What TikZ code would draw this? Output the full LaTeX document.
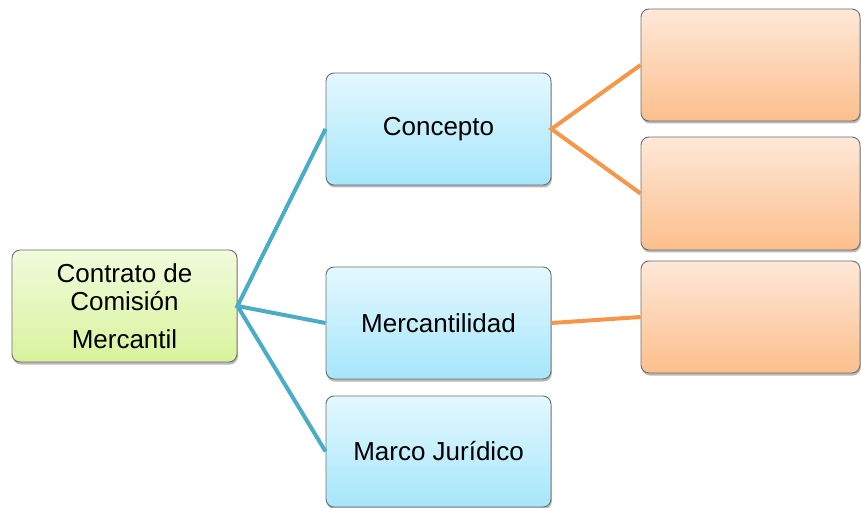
\documentclass[tikz,border=0pt]{standalone}
\usepackage{fontspec}
\setmainfont{Liberation Sans}
\usetikzlibrary{shadows}
\definecolor{gtop}{HTML}{F1FBDC}
\definecolor{gbot}{HTML}{D8F39C}
\definecolor{btop}{HTML}{E3F8FE}
\definecolor{bbot}{HTML}{A6E6FB}
\definecolor{otop}{HTML}{FEE8D8}
\definecolor{obot}{HTML}{FCBF8C}
\definecolor{bline}{HTML}{4BACC6}
\definecolor{oline}{HTML}{F79646}
\definecolor{bord}{HTML}{6E6E6E}
\tikzset{
  box/.style={rectangle, rounded corners=8bp, draw=bord, line width=0.9bp,
    minimum width=225bp, minimum height=112bp, inner sep=0pt, align=center,
    font=\fontsize{26bp}{28bp}\selectfont,
    drop shadow={shadow xshift=0.8bp, shadow yshift=-2.5bp, fill=black, opacity=0.28}},
  gbox/.style={box, top color=gtop, bottom color=gbot},
  bbox/.style={box, top color=btop, bottom color=bbot},
  obox/.style={box, top color=otop, bottom color=obot, minimum width=219bp},
  bconn/.style={draw=bline, line width=4bp},
  oconn/.style={draw=oline, line width=4bp}
}
\begin{document}
\begin{tikzpicture}[x=1bp, y=-1bp]
\useasboundingbox (0,0) rectangle (861,508);
\node[gbox] (root) at (124.5,306) {Contrato de\\Comisión\\[10bp]Mercantil};
\node[bbox] (concepto) at (438.5,129) {Concepto};
\node[bbox] (merc) at (438.5,323) {Mercantilidad};
\node[bbox, minimum height=111bp] (marco) at (438.5,451.5) {Marco Jurídico};
\node[obox] (o1) at (750.5,65) {};
\node[obox, minimum height=113bp] (o2) at (750.5,193.5) {};
\node[obox] (o3) at (750.5,317) {};
\draw[bconn] (concepto.west) -- (root.east) -- (merc.west);
\draw[bconn] (root.east) -- (marco.west);
\draw[oconn] (o1.west) -- (concepto.east) -- (o2.west);
\draw[oconn] (merc.east) -- (o3.west);
\end{tikzpicture}
\end{document}
